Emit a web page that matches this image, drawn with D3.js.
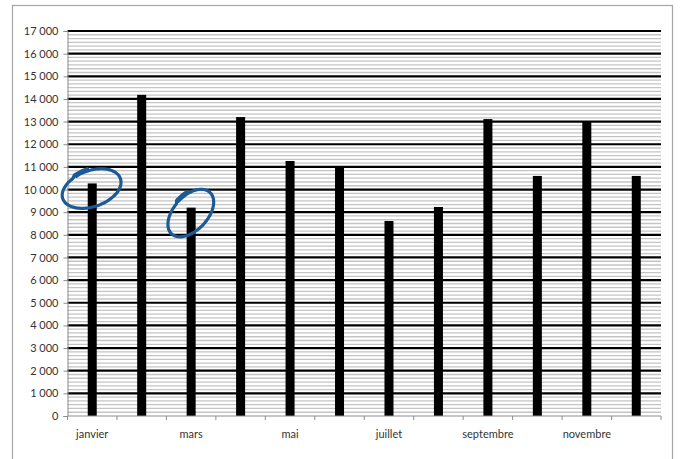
<!DOCTYPE html>
<html>
<head>
<meta charset="utf-8">
<script src="https://cdn.jsdelivr.net/npm/d3@7"></script>
<style>
  html, body { margin: 0; padding: 0; background: #fff; }
  svg { display: block; }
  text { font-family: Lato, "Open Sans", sans-serif; fill: #333; }
</style>
</head>
<body>
<svg id="chart" width="680" height="459"></svg>
<script>
// Monthly values
const months = ["janvier", "février", "mars", "avril", "mai", "juin",
                "juillet", "août", "septembre", "octobre", "novembre", "décembre"];
const values = [10270, 14180, 9200, 13200, 11260, 11000,
                8610, 9230, 13110, 10600, 12980, 10600];
const yTicks = [0, 1000, 2000, 3000, 4000, 5000, 6000, 7000, 8000,
                9000, 10000, 11000, 12000, 13000, 14000, 15000, 16000, 17000];

const svg = d3.select("#chart");
const plot = { left: 67.5, right: 661, top: 31, bottom: 416 };

const fr = d3.formatLocale({ decimal: ",", thousands: "\u00a0", grouping: [3], currency: ["", " €"] });
const fmt = fr.format(",d");

// outer frame
svg.append("rect")
  .attr("x", 12.5).attr("y", 5.5)
  .attr("width", 660).attr("height", 480)
  .attr("fill", "#fff").attr("stroke", "#a6a6a6").attr("stroke-width", 1.2);

const x = d3.scaleBand().domain(months).range([plot.left, plot.right]).padding(0);
const y = d3.scaleLinear().domain([0, 17000]).range([plot.bottom, plot.top]);

// minor gridlines
const minor = [];
for (let i = 0; i < 17; i++) for (let k = 1; k < 6; k++) minor.push(i * 1000 + k * 1000 / 6);
svg.append("g").selectAll("line").data(minor).join("line")
  .attr("x1", plot.left).attr("x2", plot.right)
  .attr("y1", d => y(d)).attr("y2", d => y(d))
  .attr("stroke", "#c4c4c4").attr("stroke-width", 1.3);

// major gridlines
svg.append("g").selectAll("line").data(yTicks.filter(d => d > 0)).join("line")
  .attr("x1", plot.left).attr("x2", plot.right)
  .attr("y1", d => y(d)).attr("y2", d => y(d))
  .attr("stroke", "#000").attr("stroke-width", 2.2);

// bars
const barW = 9;
svg.append("g").selectAll("rect").data(values).join("rect")
  .attr("x", (d, i) => x(months[i]) + x.bandwidth() / 2 - barW / 2)
  .attr("width", barW)
  .attr("y", d => y(d))
  .attr("height", d => y(0) - y(d))
  .attr("fill", "#000");

// y axis
const yAxis = svg.append("g")
  .attr("transform", `translate(${plot.left},0)`)
  .call(d3.axisLeft(y).tickValues(yTicks).tickFormat(fmt).tickSize(4).tickPadding(5));
yAxis.select(".domain").attr("stroke", "#8c8c8c");
yAxis.selectAll(".tick line").attr("stroke", "#8c8c8c");
yAxis.selectAll("text").attr("font-size", 11).attr("fill", "#333");

// x axis: ticks on category boundaries, labels on every other month
const xAxis = svg.append("g").attr("transform", `translate(0,${plot.bottom})`);
xAxis.append("line")
  .attr("x1", plot.left).attr("x2", plot.right)
  .attr("y1", 0).attr("y2", 0)
  .attr("stroke", "#8c8c8c").attr("stroke-width", 1);
const bounds = months.map(m => x(m)).concat([plot.right]);
xAxis.selectAll("line.tk").data(bounds).join("line").attr("class", "tk")
  .attr("x1", d => d).attr("x2", d => d).attr("y1", 0).attr("y2", 4)
  .attr("stroke", "#8c8c8c");
xAxis.selectAll("text").data(months.filter((m, i) => i % 2 === 0)).join("text")
  .attr("x", d => x(d) + x.bandwidth() / 2)
  .attr("y", 22)
  .attr("text-anchor", "middle")
  .attr("font-size", 11)
  .text(d => d);

// hand-drawn circles around the tops of the janvier and mars bars
const ink = "#1c5a96";
const rings = [
  { month: "janvier", dy: 5, rx: 29, ry: 18, rot: -20, start: 0.62 },
  { month: "mars", dy: 5, rx: 27, ry: 17, rot: -48, start: 0.5 }
];
const line = d3.line().curve(d3.curveCatmullRom);
rings.forEach(r => {
  const i = months.indexOf(r.month);
  const cx = x(r.month) + x.bandwidth() / 2;
  const cy = y(values[i]) + r.dy;
  const a = r.rot * Math.PI / 180;
  const pts = [];
  const n = 72;
  for (let k = 0; k <= n; k++) {
    const t = -r.start * Math.PI + (k / n) * (2 * Math.PI + 0.45);
    const grow = 1 + 0.1 * (k / n);
    const ex = r.rx * Math.cos(t) * grow;
    const ey = r.ry * Math.sin(t) * (k > n * 0.92 ? 1.12 : 1);
    pts.push([cx + ex * Math.cos(a) - ey * Math.sin(a), cy + ex * Math.sin(a) + ey * Math.cos(a)]);
  }
  svg.append("path")
    .attr("d", line(pts))
    .attr("fill", "none")
    .attr("stroke", ink)
    .attr("stroke-width", 3.2)
    .attr("stroke-linecap", "round");
});
</script>
</body>
</html>
